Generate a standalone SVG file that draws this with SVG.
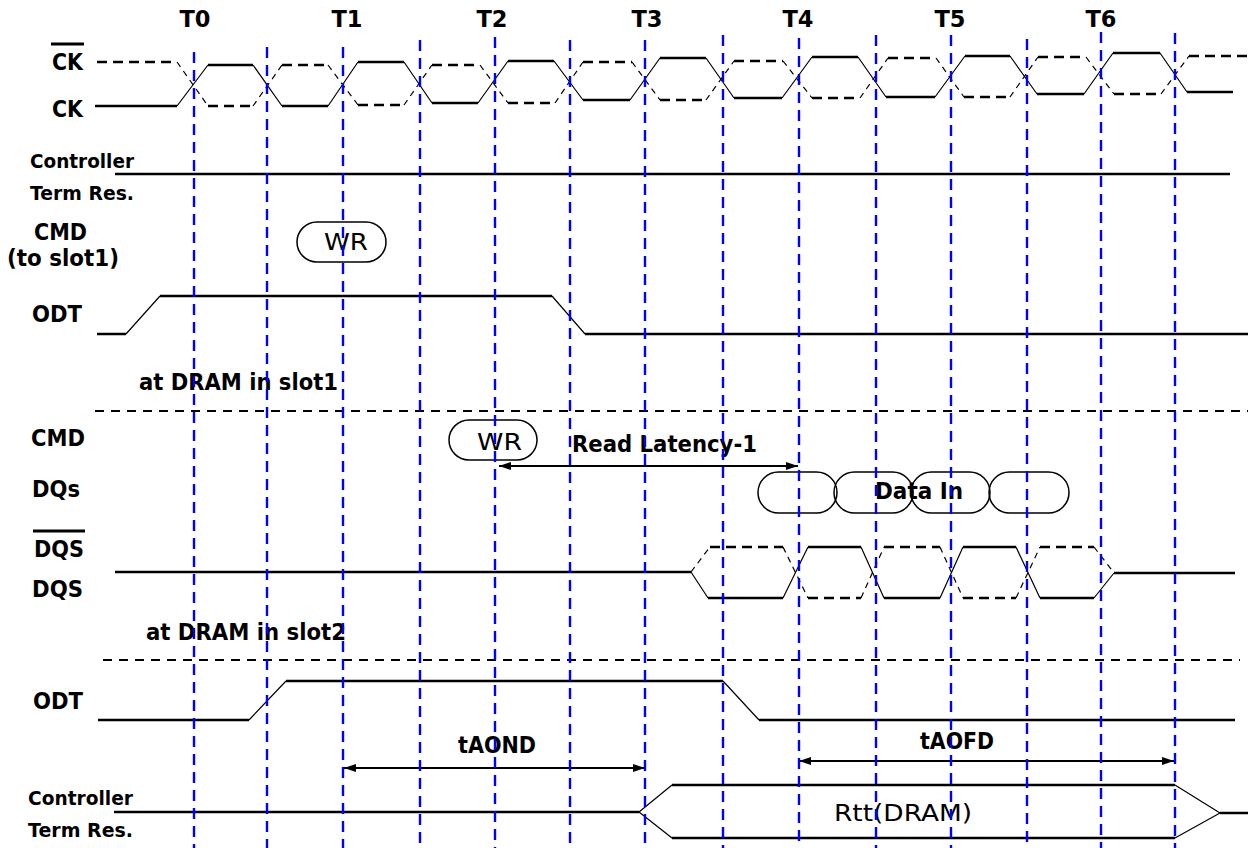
<svg xmlns="http://www.w3.org/2000/svg" width="1248" height="848" viewBox="0 0 1248 848">
<style>
.lbl{font-family:"DejaVu Sans",Verdana,sans-serif;font-weight:bold;font-size:22.5px;fill:#000}
.sm{font-size:20px}
.reg{font-weight:normal}
.th{fill:none;stroke:#000;stroke-width:2.3}
.tn{fill:none;stroke:#000;stroke-width:1.2}
.dth{fill:none;stroke:#000;stroke-width:2.3;stroke-dasharray:10 6}
.dtn{fill:none;stroke:#000;stroke-width:1.2;stroke-dasharray:6 5}
.sep{fill:none;stroke:#000;stroke-width:2;stroke-dasharray:9 7}
.bub{fill:none;stroke:#000;stroke-width:1.5}
.grid{fill:none;stroke:#0000ff;stroke-width:2.4;stroke-dasharray:11 7}
.arr{fill:none;stroke:#000;stroke-width:2}
</style>
<defs>
<marker id="ah" markerUnits="userSpaceOnUse" markerWidth="13" markerHeight="9" refX="12" refY="4" orient="auto-start-reverse">
<path d="M0,0 L12,4 L0,8 z" fill="#000"/>
</marker>
</defs>
<rect width="1248" height="848" fill="#fff"/>

<g id="time-labels" class="lbl" text-anchor="middle">
<text x="195" y="27">T0</text>
<text x="347" y="27">T1</text>
<text x="492" y="27">T2</text>
<text x="647" y="27">T3</text>
<text x="798" y="27">T4</text>
<text x="950" y="27">T5</text>
<text x="1101" y="27">T6</text>
</g>

<g id="clock">
<text class="lbl" x="52" y="70" textLength="31" lengthAdjust="spacingAndGlyphs">CK</text>
<rect x="51" y="42.5" width="33" height="3" fill="#000"/>
<text class="lbl" x="52" y="117" textLength="31" lengthAdjust="spacingAndGlyphs">CK</text>
<path class="th" d="M95,106H177 M208,65H253 M282,106H328 M358,62H404 M432,103H478 M508,61H554 M583,100H630 M660,58H706 M734,98H782 M812,57H858 M886,97H935 M965,56H1010 M1037,94H1084 M1113,53H1160 M1187,92H1233"/>
<path class="tn" d="M177,106L208,65 M253,65L282,106 M328,106L358,62 M404,62L432,103 M478,103L508,61 M554,61L583,100 M630,100L660,58 M706,58L734,98 M782,98L812,57 M858,57L886,97 M935,97L965,56 M1010,56L1037,94 M1084,94L1113,53 M1160,53L1187,92"/>
<path class="dth" d="M97,62H177 M208,106H253 M282,65H328 M358,105H404 M432,65H480 M508,103H555 M583,62H632 M660,100H706 M734,61H783 M812,98H860 M888,58H936 M964,97H1010 M1038,57H1086 M1114,94H1161 M1189,56H1248"/>
<path class="dtn" d="M177,62L208,106 M253,106L282,65 M328,65L358,105 M404,105L432,65 M480,65L508,103 M555,103L583,62 M632,62L660,100 M706,100L734,61 M783,61L812,98 M860,98L888,58 M936,58L964,97 M1010,97L1038,57 M1086,57L1114,94 M1161,94L1189,56"/>
</g>

<g id="ctrl-term-top">
<text class="lbl sm" x="30" y="168" textLength="104" lengthAdjust="spacingAndGlyphs">Controller</text>
<text class="lbl sm" x="30" y="200" textLength="104" lengthAdjust="spacingAndGlyphs">Term Res.</text>
<path class="th" d="M115,174H1230"/>
</g>

<g id="cmd-slot1">
<text class="lbl" x="34" y="240" textLength="53" lengthAdjust="spacingAndGlyphs">CMD</text>
<text class="lbl" x="7" y="266" textLength="112" lengthAdjust="spacingAndGlyphs">(to slot1)</text>
<rect class="bub" x="297" y="222" width="89" height="40" rx="20" ry="20"/>
<text class="lbl reg" x="324" y="250" font-size="29" textLength="44" lengthAdjust="spacingAndGlyphs">WR</text>
</g>

<g id="odt-slot1">
<text class="lbl" x="32" y="322" textLength="50" lengthAdjust="spacingAndGlyphs">ODT</text>
<path class="th" d="M97,334H126 M160,296H552 M585,334H1248"/>
<path class="tn" d="M126,334L160,296 M552,296L585,334"/>
<text class="lbl" x="139" y="390" textLength="199" lengthAdjust="spacingAndGlyphs">at DRAM in slot1</text>
</g>

<path id="separator-1" class="sep" d="M95,411H1248"/>

<g id="cmd-slot2">
<text class="lbl" x="31" y="446" textLength="54" lengthAdjust="spacingAndGlyphs">CMD</text>
<rect class="bub" x="449" y="420" width="88" height="40" rx="20" ry="20"/>
<text class="lbl reg" x="477" y="450" font-size="29" textLength="45" lengthAdjust="spacingAndGlyphs">WR</text>
</g>

<g id="dqs-data">
<text class="lbl" x="32" y="497" textLength="48" lengthAdjust="spacingAndGlyphs">DQs</text>
<rect class="bub" x="758" y="472" width="79" height="41" rx="20.5" ry="20.5"/>
<rect class="bub" x="834" y="472" width="79" height="41" rx="20.5" ry="20.5"/>
<rect class="bub" x="911" y="472" width="79" height="41" rx="20.5" ry="20.5"/>
<rect class="bub" x="989" y="472" width="80" height="41" rx="20.5" ry="20.5"/>
<text class="lbl" x="875" y="499" textLength="88" lengthAdjust="spacingAndGlyphs">Data In</text>
</g>

<g id="dqs-strobe">
<text class="lbl" x="34" y="557" textLength="50" lengthAdjust="spacingAndGlyphs">DQS</text>
<rect x="33" y="529.5" width="52" height="3" fill="#000"/>
<text class="lbl" x="32" y="597" textLength="51" lengthAdjust="spacingAndGlyphs">DQS</text>
<path class="th" d="M115,572H691 M708,598H783 M808,547H861 M884,598H940 M963,547H1016 M1040,598H1094 M1114,573H1235"/>
<path class="tn" d="M691,572L708,598 M783,598L808,547 M861,547L884,598 M940,598L963,547 M1016,547L1040,598 M1094,598L1114,573"/>
<path class="dth" d="M710,547H783 M808,598H861 M884,547H940 M963,598H1016 M1040,547H1094"/>
<path class="dtn" d="M691,572L710,547 M783,547L808,598 M861,598L884,547 M940,547L963,598 M1016,598L1040,547 M1094,547L1114,573"/>
<text class="lbl" x="146" y="640" textLength="200" lengthAdjust="spacingAndGlyphs">at DRAM in slot2</text>
</g>

<path id="separator-2" class="sep" d="M103,660H1240"/>

<g id="odt-slot2">
<text class="lbl" x="33" y="709" textLength="50" lengthAdjust="spacingAndGlyphs">ODT</text>
<path class="th" d="M98,720H249 M286,681H723 M759,720H1235"/>
<path class="tn" d="M249,720L286,681 M723,681L759,720"/>
</g>

<g id="ctrl-term-bottom">
<text class="lbl sm" x="28" y="805" textLength="105" lengthAdjust="spacingAndGlyphs">Controller</text>
<text class="lbl sm" x="28" y="837" textLength="105" lengthAdjust="spacingAndGlyphs">Term Res.</text>
<path class="th" d="M114,812H639 M672,785H1175 M672,838H1175 M1220,813H1248"/>
<path class="tn" d="M639,812L672,785 M639,812L672,838 M1175,785L1220,813 M1175,838L1220,813"/>
<text class="lbl reg" x="834" y="821" font-size="28" textLength="138" lengthAdjust="spacingAndGlyphs">Rtt(DRAM)</text>
</g>

<g id="connectors">
<line class="arr" x1="499" y1="466" x2="798" y2="466" marker-start="url(#ah)" marker-end="url(#ah)"/>
<text class="lbl" x="572" y="452" textLength="185" lengthAdjust="spacingAndGlyphs">Read Latency-1</text>
<line class="arr" x1="344" y1="768" x2="645" y2="768" marker-start="url(#ah)" marker-end="url(#ah)"/>
<text class="lbl" x="458" y="753" textLength="78" lengthAdjust="spacingAndGlyphs">tAOND</text>
<line class="arr" x1="799" y1="761" x2="1174" y2="761" marker-start="url(#ah)" marker-end="url(#ah)"/>
<text class="lbl" x="920" y="749" textLength="74" lengthAdjust="spacingAndGlyphs">tAOFD</text>
</g>

<g id="clock-grid" class="grid">
<line x1="194" y1="52" x2="194" y2="848"/>
<line x1="267" y1="47" x2="267" y2="848"/>
<line x1="343" y1="47" x2="343" y2="848"/>
<line x1="420" y1="40" x2="420" y2="848"/>
<line x1="495" y1="37" x2="495" y2="848"/>
<line x1="570" y1="40" x2="570" y2="848"/>
<line x1="645" y1="40" x2="645" y2="848"/>
<line x1="723" y1="35" x2="723" y2="848"/>
<line x1="799" y1="38" x2="799" y2="848"/>
<line x1="876" y1="35" x2="876" y2="848"/>
<line x1="951" y1="35" x2="951" y2="848"/>
<line x1="1027" y1="39" x2="1027" y2="848"/>
<line x1="1101" y1="32" x2="1101" y2="848"/>
<line x1="1175" y1="33" x2="1175" y2="848"/>
</g>
</svg>
